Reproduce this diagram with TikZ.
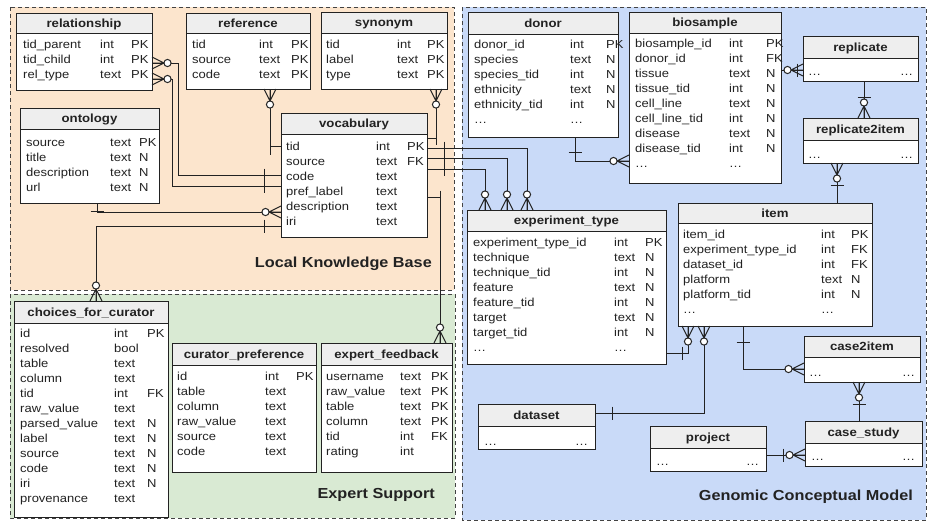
\documentclass[tikz,border=0pt]{standalone}
\usepackage{fontspec}
\setmainfont{Liberation Sans}[FakeStretch=1.12]
\definecolor{peach}{HTML}{FCE5CD}
\definecolor{mint}{HTML}{D9EAD3}
\definecolor{sky}{HTML}{C9DAF8}
\definecolor{hdr}{HTML}{EEEEEE}
\definecolor{ink}{HTML}{222222}

\newcommand\ertable[7]{%
  \node[tbox, minimum width={(#4)-(#2)}, minimum height={(#5)-(#3)}, anchor=north west] (#1) at (#2,#3) {};
  \fill[hdr] (#2,#3) rectangle (#4,#6);
  \draw[tline] (#2,#6) -- (#4,#6);
  \draw[tline] (#1.north west) rectangle (#1.south east);
  \node[htext] (#1-t) at ({((#2)+(#4))/2},{(#3)+((#6)-(#3))/2+4}) {#7};
}
\newcommand\errows[6]{%
  \foreach \n/\t/\k [count=\i from 0] in {#6} {
    \node[rtext] (#1n\i) at (#2,{(#5)+15*\i+4}) {\n};
    \node[rtext] (#1t\i) at (#3,{(#5)+15*\i+4}) {\t};
    \node[rtext] (#1k\i) at (#4,{(#5)+15*\i+4}) {\k};
  }%
}
\newcommand\erdots[4]{% prefix, x left, x right, y
  \node[rtext] (#1a) at (#2,{(#4)+4}) {\ldots};
  \node[rtext] (#1b) at (#3,{(#4)+4}) {\ldots};
}

\begin{document}
\begin{tikzpicture}[x=1pt,y=-1pt,
  region/.style={draw=ink!85, dash pattern=on 4pt off 3pt, line width=0.9pt},
  tbox/.style={fill=white, draw=none, inner sep=0pt, outer sep=0pt},
  tline/.style={draw=ink, line width=1pt},
  htext/.style={font=\bfseries\fontsize{11.8}{13}\selectfont, text=ink, inner sep=0pt, anchor=base},
  rtext/.style={font=\fontsize{11.6}{13}\selectfont, text=ink, inner sep=0pt, anchor=base west},
  rlabel/.style={font=\bfseries\fontsize{14.5}{16}\selectfont, text=ink, inner sep=0pt, anchor=base east},
  conn/.style={draw=ink, line width=1pt},
  zm/.pic={\draw[conn] (0,-6) -- (12,0) -- (0,6) (0,0) -- (12,0);
           \draw[conn,fill=white] (15.5,0) circle (3.6pt);},
  onebar/.pic={\draw[conn] (0,-6.5) -- (0,6.5);}
]
\useasboundingbox (0,0) rectangle (935,523);

% regions
\draw[region, fill=peach] (10,7) rectangle (454,290);
\draw[region, fill=mint] (10,294) rectangle (455,518);
\draw[region, fill=sky] (462,7) rectangle (926,520);

% ---- Local Knowledge Base tables
\ertable{rel}{16}{13}{152}{90}{33}{relationship}
\errows{rel}{23}{100}{131}{44}{tid\_parent/int/PK, tid\_child/int/PK, rel\_type/text/PK}
\ertable{ref}{186}{13}{310}{89}{33}{reference}
\errows{ref}{192}{259}{291}{44}{tid/int/PK, source/text/PK, code/text/PK}
\ertable{syn}{321}{12}{447}{89}{33}{synonym}
\errows{syn}{326}{397}{427}{44}{tid/int/PK, label/text/PK, type/text/PK}
\ertable{onto}{20}{108}{159}{203}{129}{ontology}
\errows{onto}{26}{110}{139}{142}{source/text/PK, title/text/N, description/text/N, url/text/N}
\ertable{voc}{281}{113}{427}{237}{134}{vocabulary}
\errows{voc}{286}{376}{407}{146}{tid/int/PK, source/text/FK, code/text/, pref\_label/text/, description/text/, iri/text/}

% ---- Expert Support tables
\ertable{cfc}{14}{301}{168}{517}{323}{choices\_for\_curator}
\errows{cfc}{20}{114}{147}{333}{id/int/PK, resolved/bool/, table/text/, column/text/, tid/int/FK, raw\_value/text/, parsed\_value/text/N, label/text/N, source/text/N, code/text/N, iri/text/N, provenance/text/}
\ertable{cp}{172}{343}{316}{472}{365}{curator\_preference}
\errows{cp}{177}{265}{296}{376}{id/int/PK, table/text/, column/text/, raw\_value/text/, source/text/, code/text/}
\ertable{ef}{321}{343}{452}{472}{365}{expert\_feedback}
\errows{ef}{326}{400}{431}{376}{username/text/PK, raw\_value/text/PK, table/text/PK, column/text/PK, tid/int/FK, rating/int/}

% ---- Genomic Conceptual Model tables
\ertable{donor}{468}{12}{618}{137}{34}{donor}
\errows{donor}{474}{570}{606}{44}{donor\_id/int/PK, species/text/N, species\_tid/int/N, ethnicity/text/N, ethnicity\_tid/int/N, \ldots/\ldots/}
\ertable{bio}{629}{12}{781}{183}{33}{biosample}
\errows{bio}{635}{729}{766}{43}{biosample\_id/int/PK, donor\_id/int/FK, tissue/text/N, tissue\_tid/int/N, cell\_line/text/N, cell\_line\_tid/int/N, disease/text/N, disease\_tid/int/N, \ldots/\ldots/}
\ertable{rep}{803}{36}{918}{81}{58}{replicate}
\erdots{repd}{808}{900}{71}
\ertable{r2i}{803}{118}{918}{163}{140}{replicate2item}
\erdots{r2id}{808}{900}{154}
\ertable{exp}{467}{210}{666}{364}{231}{experiment\_type}
\errows{exp}{473}{614}{645}{242}{experiment\_type\_id/int/PK, technique/text/N, technique\_tid/int/N, feature/text/N, feature\_tid/int/N, target/text/N, target\_tid/int/N, \ldots/\ldots/}
\ertable{item}{678}{203}{872}{326}{223}{item}
\errows{item}{683}{821}{851}{234}{item\_id/int/PK, experiment\_type\_id/int/FK, dataset\_id/int/FK, platform/text/N, platform\_tid/int/N, \ldots/\ldots/}
\ertable{c2i}{804}{336}{920}{382}{357}{case2item}
\erdots{c2id}{809}{902}{372}
\ertable{ds}{478}{404}{595}{449}{426}{dataset}
\erdots{dsd}{484}{575}{441}
\ertable{proj}{650}{426}{766}{471}{448}{project}
\erdots{projd}{656}{746}{461}
\ertable{cs}{805}{421}{922}{466}{443}{case\_study}
\erdots{csd}{811}{902}{456}

% ---- connectors
% relationship - vocabulary
\draw[conn] (rel.east |- 0,63) -- (178,63) -- (178,175) -- (voc.west |- 0,175);
\pic at (rel.east |- 0,63) {zm};
\pic at (264,175) {onebar};
\draw[conn] (rel.east |- 0,79) -- (172,79) -- (172,186) -- (voc.west |- 0,186);
\pic at (rel.east |- 0,79) {zm};
\pic at (264,186) {onebar};
% reference - vocabulary
\draw[conn] (ref.south -| 270,0) -- (270,146) -- (voc.west |- 0,146);
\pic[rotate=-90] at (ref.south -| 270,0) {zm};
\pic at (270,148) {onebar};
% synonym - vocabulary
\draw[conn] (syn.south -| 436,0) -- (436,138) -- (voc.east |- 0,138);
\pic[rotate=-90] at (syn.south -| 436,0) {zm};
\pic at (436,138) {onebar};
% vocabulary - experiment_type
\draw[conn] (voc.east |- 0,148) -- (527,148) -- (exp.north -| 527,0);
\draw[conn] (voc.east |- 0,158) -- (507,158) -- (exp.north -| 507,0);
\draw[conn] (voc.east |- 0,169) -- (485,169) -- (exp.north -| 485,0);
\pic[rotate=90] at (exp.north -| 527,0) {zm};
\pic[rotate=90] at (exp.north -| 507,0) {zm};
\pic[rotate=90] at (exp.north -| 485,0) {zm};
\pic at (444,148) {onebar};
\pic at (444,158) {onebar};
\pic at (444,169) {onebar};
% ontology - vocabulary
\draw[conn] (onto.south -| 97,0) -- (97,212) -- (voc.west |- 0,212);
\pic[rotate=180] at (voc.west |- 0,212) {zm};
\pic[rotate=90] at (97,211) {onebar};
% vocabulary - choices_for_curator
\draw[conn] (voc.west |- 0,226) -- (96,226) -- (cfc.north -| 96,0);
\pic[rotate=90] at (cfc.north -| 96,0) {zm};
\pic at (264,226) {onebar};
% vocabulary - expert_feedback
\draw[conn] (voc.east |- 0,197) -- (440,197) -- (ef.north -| 440,0);
\pic[rotate=90] at (ef.north -| 440,0) {zm};
\pic at (440,197) {onebar};
% donor - biosample
\draw[conn] (donor.south -| 575,0) -- (575,161) -- (bio.west |- 0,161);
\pic[rotate=180] at (bio.west |- 0,161) {zm};
\pic[rotate=90] at (575,152) {onebar};
% biosample - replicate
\draw[conn] (bio.east |- 0,70) -- (rep.west |- 0,70);
\pic[rotate=180] at (rep.west |- 0,70) {zm};
\pic at (797,70) {onebar};
% replicate - replicate2item
\draw[conn] (rep.south -| 864,0) -- (r2i.north -| 864,0);
\pic[rotate=90] at (r2i.north -| 864,0) {zm};
\pic[rotate=90] at (864,97) {onebar};
% replicate2item - item
\draw[conn] (r2i.south -| 837,0) -- (item.north -| 837,0);
\pic[rotate=-90] at (r2i.south -| 837,0) {zm};
\pic[rotate=90] at (837,185) {onebar};
% item - experiment_type
\draw[conn] (item.south -| 688,0) -- (688,353) -- (exp.east |- 0,353);
\pic[rotate=-90] at (item.south -| 688,0) {zm};
\pic at (682,353) {onebar};
% item - dataset
\draw[conn] (item.south -| 704,0) -- (704,413) -- (ds.east |- 0,413);
\pic[rotate=-90] at (item.south -| 704,0) {zm};
\pic at (612,413) {onebar};
% item - case2item
\draw[conn] (item.south -| 743,0) -- (743,369) -- (c2i.west |- 0,369);
\pic[rotate=180] at (c2i.west |- 0,369) {zm};
\pic[rotate=90] at (743,342) {onebar};
% case2item - case_study
\draw[conn] (c2i.south -| 859,0) -- (cs.north -| 859,0);
\pic[rotate=-90] at (c2i.south -| 859,0) {zm};
\pic[rotate=90] at (859,404) {onebar};
% project - case_study
\draw[conn] (proj.east |- 0,455) -- (cs.west |- 0,455);
\pic[rotate=180] at (cs.west |- 0,455) {zm};
\pic at (783,455) {onebar};

% region labels
\node[rlabel] (lkbl) at (432,267) {Local Knowledge Base};
\node[rlabel] (esl) at (435,498) {Expert Support};
\node[rlabel] (gcml) at (913,500) {Genomic Conceptual Model};
\end{tikzpicture}
\end{document}
